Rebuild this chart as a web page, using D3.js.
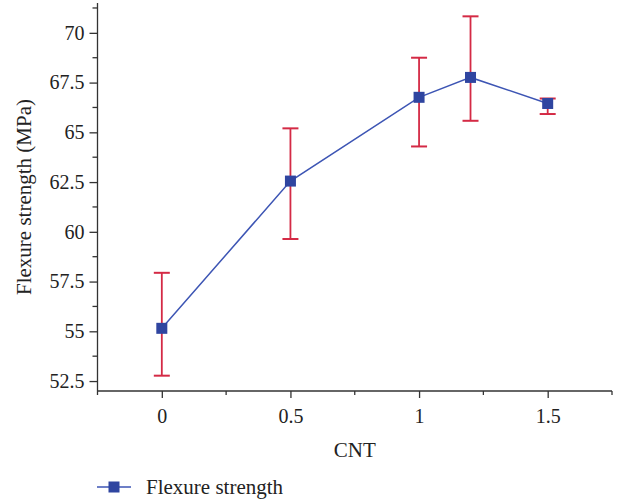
<!DOCTYPE html>
<html>
<head>
<meta charset="utf-8">
<script src="https://cdn.jsdelivr.net/npm/d3@7"></script>
<style>
  body { margin: 0; background: #fff; }
  svg text { font-family: "Liberation Serif", "DejaVu Serif", serif; fill: #222; }
</style>
</head>
<body>
<div id="chart-area"></div>
<script>
// data
var cnt = [0, 0.5, 1, 1.2, 1.5];
var strength = [55.15, 62.55, 66.76, 67.76, 66.45];
var errLow = [52.77, 59.64, 64.29, 65.58, 65.92];
var errHigh = [57.94, 65.2, 68.75, 70.83, 66.7];
var xTicks = [0, 0.5, 1, 1.5];
var yTicks = [52.5, 55, 57.5, 60, 62.5, 65, 67.5, 70];

var W = 622, H = 500;
var plotLeft = 97.5, plotRight = 612, plotTop = 3, plotBottom = 391;

var svg = d3.select("#chart-area").append("svg")
    .attr("width", W)
    .attr("height", H);

var x = d3.scaleLinear().domain([-0.25, 1.75]).range([plotLeft, plotRight]);
var y = d3.scaleLinear().domain([52, 71.5]).range([plotBottom, plotTop]);

var axisColor = "#333";

// minor ticks
var xMinor = [-0.25, 0.25, 0.75, 1.25, 1.75];
var yMinor = [53.75, 56.25, 58.75, 61.25, 63.75, 66.25, 68.75, 71.25];

var xAxis = d3.axisBottom(x).tickValues(xTicks).tickSize(7).tickPadding(11)
    .tickFormat(function(d) { return d; });
var gx = svg.append("g")
    .attr("transform", "translate(0," + plotBottom + ")")
    .call(xAxis);
gx.select(".domain").attr("d", "M" + plotLeft + ",0H" + plotRight);
gx.selectAll("g.tick text").style("font-size", "20px");

var yAxis = d3.axisLeft(y).tickValues(yTicks).tickSize(8).tickPadding(5)
    .tickFormat(function(d) { return d; });
var gy = svg.append("g")
    .attr("transform", "translate(" + plotLeft + ",0)")
    .call(yAxis);
gy.select(".domain").attr("d", "M0," + plotTop + "V" + plotBottom);
gy.selectAll("g.tick text").style("font-size", "20px");

svg.selectAll(".domain, .tick line").attr("stroke", axisColor).attr("stroke-width", 1.3);

svg.append("g").selectAll("line").data(xMinor).enter().append("line")
    .attr("x1", function(d) { return x(d); })
    .attr("x2", function(d) { return x(d); })
    .attr("y1", plotBottom).attr("y2", plotBottom + 4)
    .attr("stroke", axisColor).attr("stroke-width", 1.3);

svg.append("g").selectAll("line").data(yMinor).enter().append("line")
    .attr("x1", plotLeft - 5).attr("x2", plotLeft)
    .attr("y1", function(d) { return y(d); })
    .attr("y2", function(d) { return y(d); })
    .attr("stroke", axisColor).attr("stroke-width", 1.3);

// axis titles
svg.append("text")
    .attr("x", (plotLeft + plotRight) / 2)
    .attr("y", 457)
    .attr("text-anchor", "middle")
    .style("font-size", "21px")
    .text("CNT");

svg.append("text")
    .attr("transform", "translate(31," + ((plotTop + plotBottom) / 2) + ") rotate(-90)")
    .attr("text-anchor", "middle")
    .style("font-size", "21px")
    .text("Flexure strength (MPa)");

var pts = cnt.map(function(c, i) {
    return { x: c, y: strength[i], lo: errLow[i], hi: errHigh[i] };
});

// connecting line
var line = d3.line().x(function(d) { return x(d.x); }).y(function(d) { return y(d.y); });
svg.append("path")
    .datum(pts)
    .attr("d", line)
    .attr("fill", "none")
    .attr("stroke", "#3d55b4")
    .attr("stroke-width", 1.5);

// error bars
var errColor = "#d42a45";
var eb = svg.append("g").selectAll("g").data(pts).enter().append("g");
eb.append("line")
    .attr("x1", function(d) { return x(d.x); })
    .attr("x2", function(d) { return x(d.x); })
    .attr("y1", function(d) { return y(d.lo); })
    .attr("y2", function(d) { return y(d.hi); })
    .attr("stroke", errColor).attr("stroke-width", 1.8);
eb.selectAll(".cap").data(function(d) { return [[d.x, d.lo], [d.x, d.hi]]; })
    .enter().append("line")
    .attr("class", "cap")
    .attr("x1", function(d) { return x(d[0]) - 8; })
    .attr("x2", function(d) { return x(d[0]) + 8; })
    .attr("y1", function(d) { return y(d[1]); })
    .attr("y2", function(d) { return y(d[1]); })
    .attr("stroke", errColor).attr("stroke-width", 2);

// markers
var ms = 11;
svg.append("g").selectAll("rect").data(pts).enter().append("rect")
    .attr("x", function(d) { return x(d.x) - ms / 2; })
    .attr("y", function(d) { return y(d.y) - ms / 2; })
    .attr("width", ms).attr("height", ms)
    .attr("fill", "#2f45a0");

// legend
var lg = svg.append("g").attr("transform", "translate(97,487)");
lg.append("line").attr("x1", 0).attr("x2", 34).attr("y1", 0).attr("y2", 0)
    .attr("stroke", "#3d55b4").attr("stroke-width", 1.5);
lg.append("rect").attr("x", 17 - ms / 2).attr("y", -ms / 2).attr("width", ms).attr("height", ms)
    .attr("fill", "#2f45a0");
lg.append("text").attr("x", 49).attr("y", 7).style("font-size", "21px").text("Flexure strength");
</script>
</body>
</html>
